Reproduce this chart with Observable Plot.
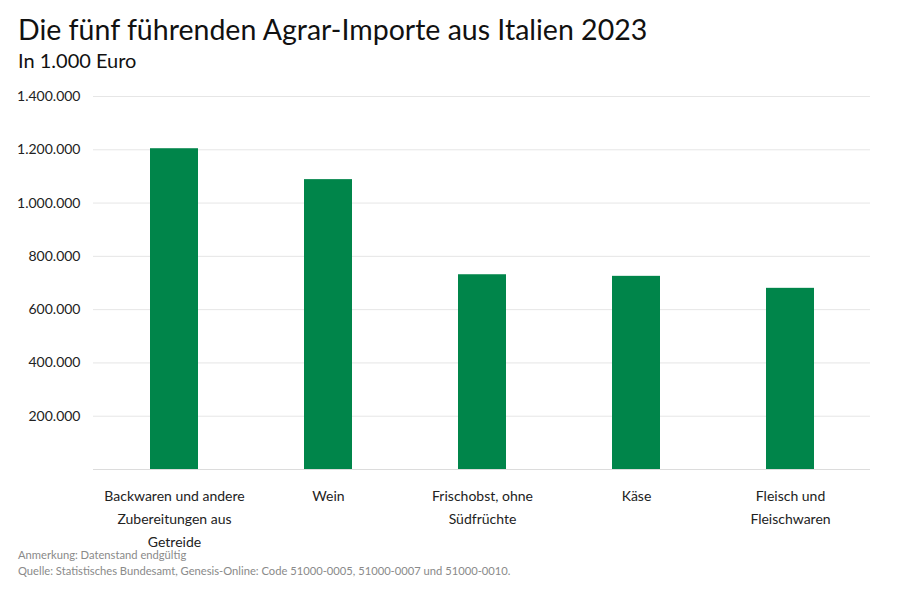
<!DOCTYPE html>
<html>
<head>
<meta charset="utf-8">
<script src="https://cdn.jsdelivr.net/npm/d3@7"></script>
<script src="https://cdn.jsdelivr.net/npm/@observablehq/plot@0.6"></script>
<style>
  body { margin: 0; background: #fff; font-family: Lato, "Noto Sans", sans-serif; }
  #wrap { position: relative; width: 900px; height: 590px; overflow: hidden; }
  #title { position: absolute; left: 18px; top: 12px; font-size: 28.5px; color: #111; white-space: nowrap; }
  #subtitle { position: absolute; left: 18px; top: 48px; font-size: 20px; color: #111; }
  #chart { position: absolute; left: 0; top: 80px; }
  #note { position: absolute; left: 18px; top: 547px; font-size: 11.2px; color: #8a8a8a; line-height: 16px; }
</style>
</head>
<body>
<div id="wrap">
  <div id="title">Die fünf führenden Agrar-Importe aus Italien 2023</div>
  <div id="subtitle">In 1.000 Euro</div>
  <div id="chart"></div>
  <div id="note">Anmerkung: Datenstand endgültig<br>Quelle: Statistisches Bundesamt, Genesis-Online: Code 51000-0005, 51000-0007 und 51000-0010.</div>
</div>
<script>
const categories = ["Backwaren und andere Zubereitungen aus Getreide", "Wein", "Frischobst, ohne Südfrüchte", "Käse", "Fleisch und Fleischwaren"];
const labels = ["Backwaren und andere\nZubereitungen aus\nGetreide", "Wein", "Frischobst, ohne\nSüdfrüchte", "Käse", "Fleisch und\nFleischwaren"];
const values = [1204000, 1088000, 731000, 725000, 680000];
const yTicks = [200000, 400000, 600000, 800000, 1000000, 1200000, 1400000];

const data = categories.map((c, i) => ({category: c, label: labels[i], value: values[i]}));
const fmt = d => d3.format(",")(d).replace(/,/g, ".");

const chart = Plot.plot({
  width: 900,
  height: 476,
  marginTop: 16,
  marginBottom: 87,
  marginLeft: 93,
  marginRight: 30,
  style: {fontFamily: "Lato, 'Noto Sans', sans-serif", fontSize: "14px", color: "#222", background: "transparent"},
  x: {domain: categories, paddingInner: 0.69, paddingOuter: 0.355, axis: null},
  y: {domain: [0, 1400000], axis: null},
  marks: [
    Plot.gridY(yTicks, {stroke: "#e6e6e6", strokeOpacity: 1, strokeWidth: 1}),
    Plot.axisY(yTicks, {tickSize: 0, tickPadding: 13, tickFormat: fmt, fontSize: 14, fill: "#222", label: null}),
    Plot.barY(data, {x: "category", y: "value", fill: "#00854a"}),
    Plot.ruleY([0], {stroke: "#dcdcdc"}),
    Plot.text(data, {x: "category", y: () => 0, text: "label", dy: 15, lineAnchor: "top", lineHeight: 1.65, fontSize: 14, fill: "#222"})
  ]
});
document.getElementById("chart").appendChild(chart);
</script>
</body>
</html>
